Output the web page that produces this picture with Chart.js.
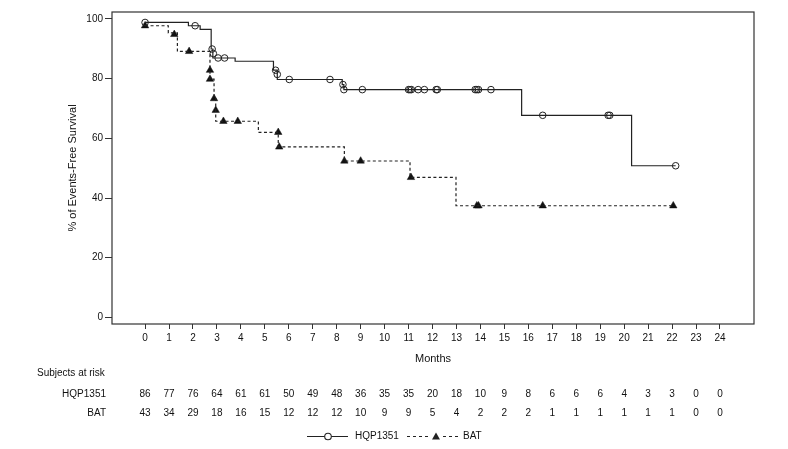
<!DOCTYPE html>
<html>
<head>
<meta charset="utf-8">
<script src="https://cdn.jsdelivr.net/npm/chart.js@4.4.1/dist/chart.umd.min.js"></script>
<style>
  html, body { margin: 0; padding: 0; background: #fff; }
  canvas { display: block; }
</style>
</head>
<body>
<canvas id="km" width="788" height="449"></canvas>
<script>
// step points of each KM curve (month, % event-free after the step)
const hqpStepT = [0, 1.81, 2.3, 2.76, 2.83, 3.76, 5.36, 5.52, 8.23, 8.3, 15.72, 20.31, 22.15];
const hqpStepS = [98.8, 97.7, 96.5, 89.9, 86.9, 85.8, 82.8, 79.7, 78.0, 76.3, 67.7, 50.8, 50.8];
const batStepT = [0, 0.97, 1.35, 2.71, 2.88, 2.95, 4.73, 5.56, 8.32, 11.06, 12.98, 22.05];
const batStepS = [97.7, 95.3, 89.1, 79.8, 73.3, 65.7, 62.0, 57.1, 52.4, 46.9, 37.4, 37.4];

// censored subjects
const hqpCensT = [0, 2.09, 2.8, 2.85, 3.05, 3.32, 5.45, 5.52, 6.02, 7.72, 8.26, 8.3, 9.07,
  11.0, 11.06, 11.12, 11.4, 11.66, 12.15, 12.2, 13.78, 13.85, 13.92, 14.44, 16.6, 19.33, 19.4, 22.15];
const hqpCensS = [98.8, 97.7, 89.9, 88.4, 86.9, 86.9, 82.8, 81.4, 79.7, 79.7, 78.0, 76.3, 76.3,
  76.3, 76.3, 76.3, 76.3, 76.3, 76.3, 76.3, 76.3, 76.3, 76.3, 76.3, 67.7, 67.7, 67.7, 50.8];
const batCensT = [0, 1.22, 1.84, 2.71, 2.71, 2.88, 2.95, 3.27, 3.87, 5.56, 5.6, 8.32, 9.0, 11.1,
  13.85, 13.92, 16.6, 22.05];
const batCensS = [97.7, 94.8, 89.1, 82.8, 79.8, 73.3, 69.4, 65.7, 65.7, 62.0, 57.1, 52.4, 52.4, 46.9,
  37.4, 37.4, 37.4, 37.4];

const xTicks = [0, 1, 2, 3, 4, 5, 6, 7, 8, 9, 10, 11, 12, 13, 14, 15, 16, 17, 18, 19, 20, 21, 22, 23, 24];
const yTicks = [0, 20, 40, 60, 80, 100];

const groupNames = ['HQP1351', 'BAT'];
const riskHQP = [86, 77, 76, 64, 61, 61, 50, 49, 48, 36, 35, 35, 20, 18, 10, 9, 8, 6, 6, 6, 4, 3, 3, 0, 0];
const riskBAT = [43, 34, 29, 18, 16, 15, 12, 12, 12, 10, 9, 9, 5, 4, 2, 2, 2, 1, 1, 1, 1, 1, 1, 0, 0];

const FONT = '"Liberation Sans", Arial, sans-serif';
const INK = '#222';

const pts = (t, s) => t.map((v, i) => ({ x: v, y: s[i] }));

const kmExtras = {
  id: 'kmExtras',
  afterDraw(chart) {
    const ctx = chart.ctx;
    const a = chart.chartArea;
    const xs = chart.scales.x;
    ctx.save();
    ctx.strokeStyle = '#333';
    ctx.lineWidth = 1.2;
    ctx.strokeRect(a.left, a.top, a.right - a.left, a.bottom - a.top);

    // subjects at risk
    ctx.fillStyle = '#111';
    ctx.font = '10px ' + FONT;
    ctx.textBaseline = 'middle';
    ctx.textAlign = 'left';
    ctx.fillText('Subjects at risk', 37, 373);
    ctx.textAlign = 'right';
    ctx.fillText(groupNames[0], 106, 394);
    ctx.fillText(groupNames[1], 106, 413);
    ctx.textAlign = 'center';
    xTicks.forEach((t, i) => {
      const px = xs.getPixelForValue(t);
      ctx.fillText(String(riskHQP[i]), px, 394);
      ctx.fillText(String(riskBAT[i]), px, 413);
    });

    // legend
    const ly = 436.5;
    ctx.strokeStyle = INK;
    ctx.lineWidth = 1.1;
    ctx.beginPath();
    ctx.moveTo(307, ly); ctx.lineTo(348, ly);
    ctx.stroke();
    ctx.beginPath();
    ctx.arc(328, ly, 3.3, 0, Math.PI * 2);
    ctx.fillStyle = '#fff';
    ctx.fill();
    ctx.stroke();
    ctx.setLineDash([3, 3]);
    ctx.beginPath();
    ctx.moveTo(407, ly); ctx.lineTo(458, ly);
    ctx.stroke();
    ctx.setLineDash([]);
    ctx.fillStyle = '#fff';
    ctx.fillRect(431, ly - 5, 10, 10);
    ctx.fillStyle = INK;
    ctx.beginPath();
    ctx.moveTo(436, ly - 4);
    ctx.lineTo(440, ly + 3);
    ctx.lineTo(432, ly + 3);
    ctx.closePath();
    ctx.fill();
    ctx.fillStyle = '#111';
    ctx.textAlign = 'left';
    ctx.fillText(groupNames[0], 355, ly);
    ctx.fillText(groupNames[1], 463, ly);
    ctx.restore();
  }
};

new Chart(document.getElementById('km'), {
  type: 'scatter',
  data: {
    datasets: [
      {
        label: groupNames[0],
        data: pts(hqpStepT, hqpStepS),
        showLine: true,
        stepped: 'before',
        borderColor: INK,
        borderWidth: 1.2,
        pointRadius: 0
      },
      {
        label: groupNames[1],
        data: pts(batStepT, batStepS),
        showLine: true,
        stepped: 'before',
        borderColor: INK,
        borderWidth: 1.2,
        borderDash: [3, 2.5],
        pointRadius: 0
      },
      {
        label: groupNames[0] + ' censored',
        data: pts(hqpCensT, hqpCensS),
        showLine: false,
        pointStyle: 'circle',
        pointRadius: 3.3,
        pointBorderWidth: 1,
        pointBorderColor: INK,
        pointBackgroundColor: 'rgba(255,255,255,0)'
      },
      {
        label: groupNames[1] + ' censored',
        data: pts(batCensT, batCensS),
        showLine: false,
        pointStyle: 'triangle',
        pointRadius: 4.3,
        pointBorderWidth: 0.5,
        pointBorderColor: '#111',
        pointBackgroundColor: '#111'
      }
    ]
  },
  options: {
    responsive: false,
    animation: false,
    devicePixelRatio: 1,
    layout: { padding: { left: 0, right: 34, top: 12, bottom: 83 } },
    plugins: {
      legend: { display: false },
      tooltip: { enabled: false }
    },
    scales: {
      x: {
        type: 'linear',
        min: -1.38,
        max: 25.42,
        afterBuildTicks: (s) => { s.ticks = xTicks.map(v => ({ value: v })); },
        afterFit: (s) => { s.height = 42; },
        grid: { display: true, drawOnChartArea: false, drawTicks: true, tickLength: 5, color: '#333', lineWidth: 1 },
        border: { display: false },
        ticks: { padding: 3, maxRotation: 0, autoSkip: false, color: '#111', font: { family: FONT, size: 10 } },
        title: { display: true, text: 'Months', color: '#111', padding: { top: 0, bottom: 0 }, font: { family: FONT, size: 11 } }
      },
      y: {
        type: 'linear',
        min: -2.2,
        max: 102.3,
        afterBuildTicks: (s) => { s.ticks = yTicks.map(v => ({ value: v })); },
        afterFit: (s) => { s.width = 112; },
        grid: { display: true, drawOnChartArea: false, drawTicks: true, tickLength: 7, color: '#333', lineWidth: 1 },
        border: { display: false },
        ticks: { padding: 2, color: '#111', font: { family: FONT, size: 10 } },
        title: { display: true, text: '% of Events-Free Survival', color: '#111', padding: { top: 66, bottom: 0 }, font: { family: FONT, size: 11 } }
      }
    }
  },
  plugins: [kmExtras]
});
</script>
</body>
</html>
